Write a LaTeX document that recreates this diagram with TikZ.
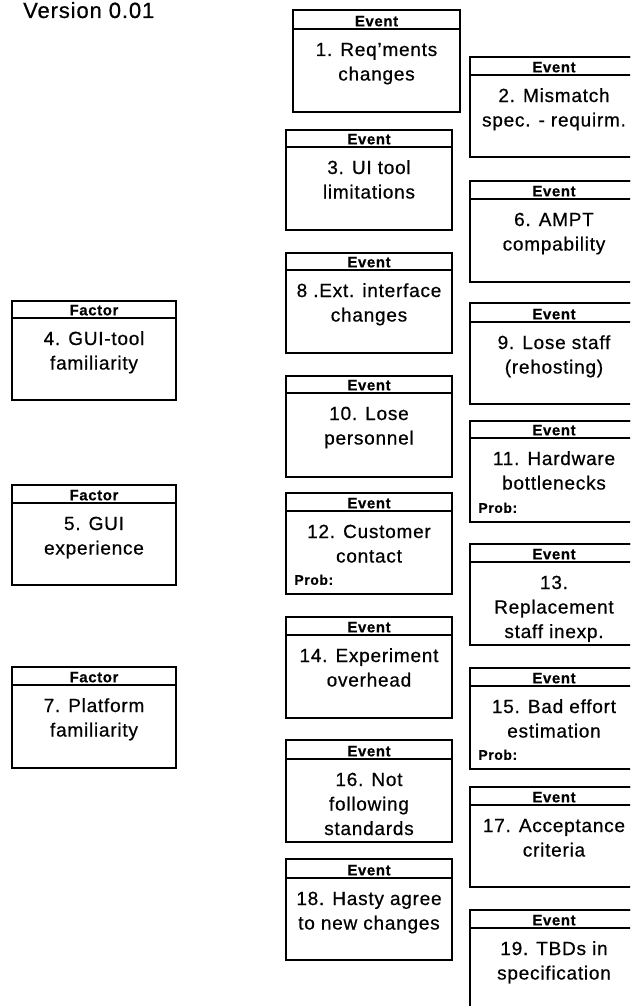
\documentclass[tikz,border=0pt]{standalone}
\usepackage{fontspec}
\setmainfont{Liberation Sans}[LetterSpace=4, FakeBold=0.6]
\usetikzlibrary{fit,calc}

\tikzset{
  cardbox/.style={draw, line width=1.6pt, inner sep=0pt},
  hdrbox/.style={draw, line width=1.6pt, inner sep=0pt},
  hdrtext/.style={inner sep=0pt, font=\bfseries\fontsize{15}{17}\selectfont},
  bodytext/.style={inner sep=0pt, align=center,
    font=\fontsize{19}{24.5}\selectfont},
  probtext/.style={inner sep=0pt, font=\bfseries\fontsize{14}{16}\selectfont},
  titletext/.style={inner sep=0pt, font=\fontsize{22}{26}\selectfont},
}

% \card{name}{kind}{left}{top}{right}{bottom}{header bottom}{body lines}
\newcommand\card[8]{%
  \coordinate (#1-nw) at (#3,-#4);
  \coordinate (#1-se) at (#5,-#6);
  \coordinate (#1-hse) at (#5,-#7);
  \node[cardbox, fit=(#1-nw)(#1-se)] (#1) {};
  \node[hdrbox, fit=(#1-nw)(#1-hse)] (#1-h) {};
  \node[hdrtext, anchor=base] (#1-k) at ([yshift=3.5pt]#1-h.south) {#2};
  \node[bodytext, anchor=north] (#1-b) at ([yshift=-8.85pt]#1-h.south) {\strut #8};
}
% probability line at the lower left of a card
\newcommand\prob[1]{%
  \node[probtext, anchor=base west] (#1-p) at ([xshift=9pt, yshift=10pt]#1.south west) {Prob:};
}

\begin{document}
\begin{tikzpicture}[x=1pt, y=1pt]
\useasboundingbox (0,0) rectangle (630,-1006);
\clip (0,0) rectangle (630,-1006);

\node[titletext, anchor=base west] (title) at (23,-18) {Version 0.01};

% factors
\card{f4}{Factor}{12}{301}{176}{400}{318}{4. GUI-tool\\familiarity}
\card{f5}{Factor}{12}{485}{176}{585}{503}{5. GUI\\experience}
\card{f7}{Factor}{12}{667}{176}{768}{685}{7. Platform\\familiarity}

% events, middle column
\card{e1}{Event}{293}{10}{460}{112}{29}{1. Req'ments\\changes}
\card{e3}{Event}{286}{130}{452}{230}{147}{3. UI tool\\limitations}
\card{e8}{Event}{286}{253}{452}{353}{270}{8 .Ext. interface\\changes}
\card{e10}{Event}{286}{376}{452}{477}{393}{10. Lose\\personnel}
\card{e12}{Event}{286}{493}{452}{594}{511}{12. Customer\\contact}
\prob{e12}
\card{e14}{Event}{286}{617}{452}{718}{635}{14. Experiment\\overhead}
\card{e16}{Event}{286}{740}{452}{842}{759}{16. Not\\following\\standards}
\card{e18}{Event}{286}{859}{452}{960}{878}{18. Hasty agree\\to new changes}

% events, right column
\card{e2}{Event}{470}{57}{638}{157}{75}{2. Mismatch\\spec. - requirm.}
\card{e6}{Event}{470}{181}{638}{282}{199}{6. AMPT\\compability}
\card{e9}{Event}{470}{303}{638}{404}{322}{9. Lose staff\\(rehosting)}
\card{e11}{Event}{470}{421}{638}{522}{438}{11. Hardware\\bottlenecks}
\prob{e11}
\card{e13}{Event}{470}{544}{638}{645}{562}{13.\\Replacement\\staff inexp.}
\card{e15}{Event}{470}{668}{638}{769}{686}{15. Bad effort\\estimation}
\prob{e15}
\card{e17}{Event}{470}{787}{638}{887}{805}{17. Acceptance\\criteria}
\card{e19}{Event}{470}{910}{638}{1030}{928}{19. TBDs in\\specification}
\end{tikzpicture}
\end{document}
